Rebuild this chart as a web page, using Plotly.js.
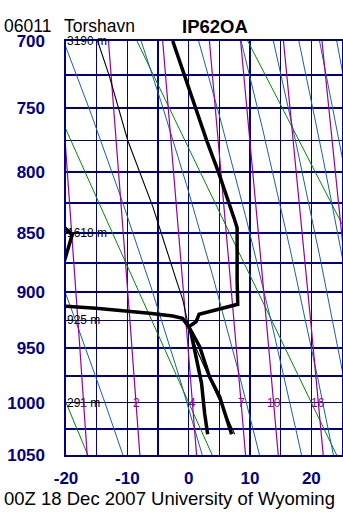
<!DOCTYPE html>
<html><head><meta charset="utf-8">
<script src="https://cdn.plot.ly/plotly-3.0.1.min.js"></script>
<style>html,body{margin:0;padding:0;background:#fff;} #chart{width:343px;height:512px;}</style>
</head><body><div id="chart"></div>
<script>
// ---- texts ----
const stationId = '06011';
const stationName = 'Torshavn';
const indexLabel = 'IP62OA';
const footer = '00Z 18 Dec 2007 University of Wyoming';

// ---- axes ----
const pressureTicks = [700,725,750,775,800,825,850,875,900,925,950,975,1000,1025,1050];
const pressureLabelled = [700,750,800,850,900,950,1000,1050];
const tempTicks = [-20,-15,-10,-5,0,5,10,15,20,25];
const tempLabelled = [-20,-10,0,10,20];

// ---- sounding ----
const tempP = [1030, 994.5, 976, 948.6, 930.6, 926.2, 919.6, 910.8, 889.7, 845.6, 839, 826.6, 800.7, 775.9, 750.7, 726.3, 700];
const tempC = [7.0, 5.05, 3.4, 1.8, 0.0, 1.2, 1.7, 8.0, 7.9, 7.9, 7.5, 6.7, 4.9, 3.0, 1.2, -0.6, -2.6];
const dewP = [1030, 1010, 982, 958, 936.5, 930.6, 923.2, 921.1, 918.7, 914.3, 910.8, 890, 874, 851.5, 845, 835, 700];
const dewC = [3.1, 2.6, 2.1, 1.2, 0.4, 0.0, -1.0, -2.6, -6.4, -15.1, -25, -24, -20.3, -19.0, -20.3, -24, -30];
const parcelP = [1030, 976, 950, 931, 907, 890, 828, 775, 726, 700];
const parcelC = [7.5, 3.3, 1.2, 0.0, -0.95, -2.0, -5.85, -9.93, -12.92, -14.84];

// ---- height labels ----
const heightP = [700, 850, 925, 1000];
const heightLabel = ['3190 m', '1618 m', '925 m', '291 m'];

// ---- background isopleths (diagram parameters) ----
const dryAdiabatsC = [-20, 0, 20, 40, 60];           // potential temperature, deg C
const moistAdiabatsC = [-10, 10, 30, 50, 70, 90, 110, 130, 150]; // equivalent potential temperature, deg C
const mixingRatios = [1, 2, 4, 7, 10, 16, 24];       // g/kg
const mixingLabelP = 1000;

// ---- thermodynamics for the Stuve diagram ----
const KAPPA = 0.286;
const sy = p => Math.pow(p / 1000, KAPPA);
const esat = tc => 6.112 * Math.exp(17.67 * tc / (tc + 243.5));
const tdFromE = e => { const l = Math.log(e / 6.112); return 243.5 * l / (17.67 - l); };
function thetaESat(tc, p) {
  const T = tc + 273.15, e = esat(tc), r = 622 * e / (p - e);
  return T * Math.pow(1000 / p, 0.2854 * (1 - 0.00028 * r)) * Math.exp((3.376 / T - 0.00254) * r * (1 + 0.00081 * r));
}
function moistT(thetaE, p) {
  let lo = -80, hi = 45;
  for (let i = 0; i < 50; i++) { const m = (lo + hi) / 2; if (thetaESat(m, p) > thetaE) hi = m; else lo = m; }
  return (lo + hi) / 2;
}
const isoP = [];
for (let p = 690; p <= 1060; p += 5) isoP.push(p);

const NAVY = '#000088', GREEN = '#008800', BLUE = '#1b5fa5', PURPLE = '#990099';
const traces = [];
dryAdiabatsC.forEach(th => traces.push({
  x: isoP.map(p => (th + 273.15) * sy(p) - 273.15), y: isoP.map(sy),
  mode: 'lines', line: {color: GREEN, width: 1}, hoverinfo: 'skip', showlegend: false
}));
moistAdiabatsC.forEach(te => traces.push({
  x: isoP.map(p => moistT(te + 273.15, p)), y: isoP.map(sy),
  mode: 'lines', line: {color: BLUE, width: 1}, hoverinfo: 'skip', showlegend: false
}));
mixingRatios.forEach(w => traces.push({
  x: isoP.map(p => tdFromE(w * p / (622 + w))), y: isoP.map(sy),
  mode: 'lines', line: {color: PURPLE, width: 1.2}, hoverinfo: 'skip', showlegend: false
}));
traces.push({x: parcelC, y: parcelP.map(sy), mode: 'lines', line: {color: '#000', width: 1.1}, hoverinfo: 'skip', showlegend: false});
traces.push({x: tempC, y: tempP.map(sy), mode: 'lines', line: {color: '#000', width: 3.5}, hoverinfo: 'skip', showlegend: false});
traces.push({x: dewC, y: dewP.map(sy), mode: 'lines', line: {color: '#000', width: 3.5}, hoverinfo: 'skip', showlegend: false});

const FONT = 'Liberation Sans, Arial, Helvetica, sans-serif';
const L = 66, T = 41, W = 276, H = 414;
const px = x => (x - L) / W, py = y => (T + H - y) / H;
const annotations = [];
annotations.push({xref: 'paper', yref: 'paper', x: px(3), y: py(26), xanchor: 'left', yanchor: 'middle', borderpad: 0, text: stationId, showarrow: false, font: {family: FONT, size: 17.5, color: '#000'}});
annotations.push({xref: 'paper', yref: 'paper', x: px(63), y: py(26), xanchor: 'left', yanchor: 'middle', borderpad: 0, text: stationName, showarrow: false, font: {family: FONT, size: 17.5, color: '#000'}});
annotations.push({xref: 'paper', yref: 'paper', x: px(181), y: py(26), xanchor: 'left', yanchor: 'middle', borderpad: 0, text: '<b>' + indexLabel + '</b>', showarrow: false, font: {family: FONT, size: 18.5, color: '#000'}});
annotations.push({xref: 'paper', yref: 'paper', x: px(2), y: py(498), xanchor: 'left', yanchor: 'middle', text: footer, showarrow: false, font: {family: FONT, size: 18.5, color: '#000'}});
heightP.forEach((p, i) => annotations.push({xref: 'paper', yref: 'y', x: 0, xshift: 0, y: sy(p), xanchor: 'left', yanchor: 'middle', borderpad: 0, text: heightLabel[i], showarrow: false, font: {family: FONT, size: 12, color: '#000'}}));
mixingRatios.forEach(w => {
  const xt = tdFromE(w * mixingLabelP / (622 + w));
  if (xt > -20 && xt < 25) annotations.push({xref: 'x', yref: 'y', x: xt, y: sy(mixingLabelP), xanchor: 'center', yanchor: 'middle', borderpad: 0, text: String(w), showarrow: false, font: {family: FONT, size: 12, color: PURPLE}});
});

const layout = {
  width: 343, height: 512,
  margin: {l: L, r: 343 - L - W, t: T, b: 512 - T - H, pad: 0},
  paper_bgcolor: '#fff', plot_bgcolor: '#fff',
  showlegend: false,
  xaxis: {
    range: [-20, 25], tickvals: tempTicks,
    ticktext: tempTicks.map(v => tempLabelled.includes(v) ? String(v) : ''),
    showgrid: true, gridcolor: NAVY, gridwidth: 1.6, zeroline: false,
    showline: true, linecolor: NAVY, linewidth: 1.6, mirror: true, ticks: '',
    ticklabelstandoff: 7,
    tickfont: {family: FONT, size: 17, color: NAVY, weight: 'bold'}
  },
  yaxis: {
    range: [sy(1050), sy(700)], tickvals: pressureTicks.map(sy),
    ticktext: pressureTicks.map(v => pressureLabelled.includes(v) ? String(v) : ''),
    showgrid: true, gridcolor: NAVY, gridwidth: 1.6, zeroline: false,
    showline: true, linecolor: NAVY, linewidth: 1.6, mirror: true, ticks: '',
    ticklabelstandoff: 16,
    tickfont: {family: FONT, size: 17, color: NAVY, weight: 'bold'}
  },
  annotations: annotations
};
Plotly.newPlot('chart', traces, layout, {staticPlot: true, displayModeBar: false});
</script>
</body></html>
